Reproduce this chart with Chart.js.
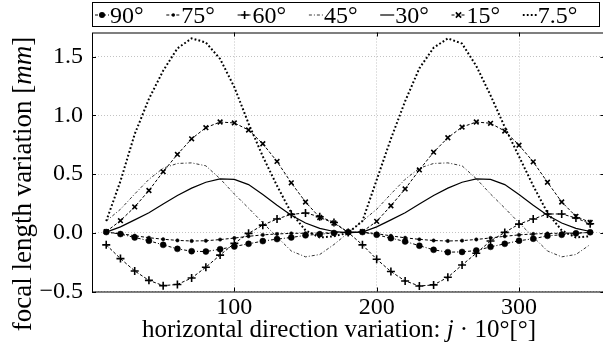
<!DOCTYPE html>
<html>
<head>
<meta charset="utf-8">
<script src="https://cdn.jsdelivr.net/npm/chart.js@4.4.0/dist/chart.umd.min.js"></script>
<style>
  html, body { margin: 0; padding: 0; background: #fff; overflow: hidden; }
  #wrap { width: 610px; height: 347px; }
</style>
</head>
<body>
<div id="wrap"><canvas id="c" width="610" height="347"></canvas></div>
<script>
// horizontal direction variation j*10 deg
const angleX = [10, 20, 30, 40, 50, 60, 70, 80, 90, 100, 110, 120, 130, 140, 150, 160, 170, 180,
                190, 200, 210, 220, 230, 240, 250, 260, 270, 280, 290, 300, 310, 320, 330, 340, 350];

// focal length variation [mm] per tilt angle
const f90 = [0.006, -0.011, -0.040, -0.068, -0.103, -0.137, -0.157, -0.160, -0.140, -0.117, -0.094, -0.071, -0.054, -0.040, -0.022, -0.012, -0.002, 0.004,
             0.006, -0.017, -0.046, -0.074, -0.110, -0.145, -0.165, -0.163, -0.151, -0.120, -0.094, -0.068, -0.051, -0.026, -0.017, -0.005, 0.004];
const f75 = [0.005, -0.008, -0.025, -0.042, -0.055, -0.065, -0.070, -0.068, -0.058, -0.045, -0.030, -0.018, -0.010, -0.005, -0.004, -0.003, 0.000, 0.003,
             0.005, -0.008, -0.026, -0.043, -0.056, -0.066, -0.070, -0.067, -0.057, -0.044, -0.030, -0.018, -0.010, -0.006, -0.004, -0.002, 0.002];
const f60 = [-0.103, -0.220, -0.325, -0.405, -0.450, -0.440, -0.385, -0.293, -0.190, -0.090, -0.005, 0.065, 0.117, 0.157, 0.168, 0.137, 0.088, 0.003,
             -0.103, -0.225, -0.330, -0.410, -0.453, -0.444, -0.379, -0.274, -0.174, -0.070, 0.003, 0.074, 0.117, 0.160, 0.160, 0.126, 0.077];
const f45 = [0.100, 0.200, 0.330, 0.455, 0.550, 0.590, 0.595, 0.570, 0.460, 0.330, 0.210, 0.085, -0.035, -0.155, -0.205, -0.185, -0.100, 0.000,
             0.100, 0.200, 0.330, 0.455, 0.550, 0.590, 0.595, 0.570, 0.460, 0.330, 0.210, 0.085, -0.035, -0.155, -0.205, -0.185, -0.100];
const f30 = [0.005, 0.050, 0.110, 0.170, 0.245, 0.318, 0.380, 0.430, 0.458, 0.455, 0.410, 0.325, 0.235, 0.150, 0.083, 0.038, 0.011, 0.002,
             0.005, 0.050, 0.110, 0.170, 0.245, 0.318, 0.380, 0.430, 0.458, 0.455, 0.410, 0.325, 0.235, 0.150, 0.083, 0.038, 0.011];
const f15 = [0.010, 0.103, 0.220, 0.360, 0.520, 0.667, 0.800, 0.895, 0.943, 0.935, 0.875, 0.758, 0.607, 0.425, 0.262, 0.130, 0.083, 0.003,
             0.010, 0.097, 0.230, 0.373, 0.535, 0.686, 0.809, 0.900, 0.943, 0.932, 0.866, 0.746, 0.604, 0.430, 0.262, 0.140, 0.088];
const f7_5 = [0.100, 0.440, 0.840, 1.140, 1.380, 1.570, 1.655, 1.620, 1.480, 1.240, 0.930, 0.650, 0.400, 0.170, 0.020, -0.040, -0.030, 0.000,
              0.100, 0.450, 0.800, 1.120, 1.400, 1.575, 1.655, 1.610, 1.420, 1.170, 0.900, 0.650, 0.400, 0.170, 0.020, -0.040, -0.030];

const seriesLabels = ['90°', '75°', '60°', '45°', '30°', '15°', '7.5°'];
const xTicks = [100, 200, 300];
const yTicks = [-0.5, 0, 0.5, 1.0, 1.5];

const serif = "'Liberation Serif', 'Times New Roman', serif";
const fontSize = 24;

function pts(vals) {
    return vals.map((v, i) => ({ x: angleX[i], y: v }));
}

// line style per series: dash, width, marker
const looks = [
    { dash: [3, 2, 1, 2], width: 1,   marker: 'circle', r: 3 },
    { dash: [3, 2],       width: 1,   marker: 'circle', r: 1.7 },
    { dash: [3, 2],       width: 1,   marker: 'cross',  r: 4 },
    { dash: [3, 2, 1, 2], width: 0.8, marker: false,    r: 0 },
    { dash: [],           width: 1.2, marker: false,    r: 0 },
    { dash: [3, 2],       width: 1,   marker: 'crossRot', r: 3.3 },
    { dash: [1.8, 2.2],   width: 2,   marker: false,    r: 0 }
];

const seriesData = [f90, f75, f60, f45, f30, f15, f7_5];

const datasets = seriesData.map((vals, i) => ({
    label: seriesLabels[i],
    data: pts(vals),
    borderColor: '#000',
    backgroundColor: '#000',
    borderWidth: looks[i].width,
    borderDash: looks[i].dash,
    pointStyle: looks[i].marker || 'circle',
    pointRadius: looks[i].r,
    pointBorderWidth: looks[i].marker === 'circle' ? 0.5 : 1.6,
    pointBackgroundColor: '#000',
    pointBorderColor: '#000',
    tension: 0,
    fill: false
}));

function drawMarker(ctx, kind, r, x, y) {
    ctx.save();
    ctx.setLineDash([]);
    ctx.fillStyle = '#000';
    ctx.strokeStyle = '#000';
    ctx.beginPath();
    if (kind === 'circle') {
        ctx.arc(x, y, r, 0, Math.PI * 2);
        ctx.fill();
    } else if (kind === 'cross') {
        ctx.lineWidth = 1.6;
        ctx.moveTo(x - r, y); ctx.lineTo(x + r, y);
        ctx.moveTo(x, y - r); ctx.lineTo(x, y + r);
        ctx.stroke();
    } else if (kind === 'crossRot') {
        ctx.lineWidth = 1.6;
        ctx.moveTo(x - r * 0.8, y - r * 0.8); ctx.lineTo(x + r * 0.8, y + r * 0.8);
        ctx.moveTo(x - r * 0.8, y + r * 0.8); ctx.lineTo(x + r * 0.8, y - r * 0.8);
        ctx.stroke();
    }
    ctx.restore();
}

function drawPieces(ctx, pieces, cx, baseline, size) {
    let total = 0;
    pieces.forEach(p => {
        ctx.font = (p.it ? 'italic ' : '') + size + 'px ' + serif;
        p.w = ctx.measureText(p.t).width;
        total += p.w;
    });
    let x = cx - total / 2;
    pieces.forEach(p => {
        ctx.font = (p.it ? 'italic ' : '') + size + 'px ' + serif;
        ctx.fillText(p.t, x, baseline);
        x += p.w;
    });
}

const decorations = {
    id: 'decorations',
    afterDraw(chart) {
        const { ctx, chartArea: a, scales } = chart;
        ctx.save();
        ctx.strokeStyle = '#000';
        ctx.fillStyle = '#000';
        ctx.lineWidth = 1;

        // plot frame
        ctx.strokeRect(a.left + 0.5, a.top + 0.5, a.right - a.left, a.bottom - a.top);

        // inward tick marks on all four sides
        ctx.beginPath();
        xTicks.forEach(v => {
            const px = Math.round(scales.x.getPixelForValue(v)) + 0.5;
            ctx.moveTo(px, a.bottom); ctx.lineTo(px, a.bottom - 4);
            ctx.moveTo(px, a.top); ctx.lineTo(px, a.top + 4);
        });
        yTicks.forEach(v => {
            const py = Math.round(scales.y.getPixelForValue(v)) + 0.5;
            ctx.moveTo(a.left, py); ctx.lineTo(a.left + 4, py);
            ctx.moveTo(a.right, py); ctx.lineTo(a.right - 4, py);
        });
        ctx.stroke();

        // legend box on top
        const boxL = a.left + 0.5, boxR = 599.5, boxT = 2.5, boxB = 26.5;
        ctx.strokeRect(boxL, boxT, boxR - boxL, boxB - boxT);
        const step = 71.3;
        const midY = 15;
        ctx.textBaseline = 'alphabetic';
        chart.data.datasets.forEach((ds, i) => {
            const sx = boxL + 2.5 + i * step;
            const sLen = 14;
            ctx.save();
            ctx.lineWidth = ds.borderWidth;
            ctx.setLineDash(ds.borderDash);
            ctx.beginPath();
            ctx.moveTo(sx, midY); ctx.lineTo(sx + sLen, midY);
            ctx.stroke();
            ctx.restore();
            if (looks[i].marker) {
                drawMarker(ctx, looks[i].marker, looks[i].r, sx + sLen / 2, midY);
            }
            ctx.font = fontSize + 'px ' + serif;
            ctx.fillText(ds.label, sx + sLen + 1, 23);
        });

        // axis titles
        drawPieces(ctx, [
            { t: 'horizontal direction variation: ', it: false },
            { t: 'j', it: true },
            { t: ' · 10°[°]', it: false }
        ], 339, 337, 25);

        ctx.save();
        ctx.translate(31, 184);
        ctx.rotate(-Math.PI / 2);
        drawPieces(ctx, [
            { t: 'focal length variation [', it: false },
            { t: 'mm', it: true },
            { t: ']', it: false }
        ], 0, 0, 27);
        ctx.restore();

        ctx.restore();
    }
};

new Chart(document.getElementById('c').getContext('2d'), {
    type: 'line',
    data: { datasets },
    options: {
        responsive: false,
        animation: false,
        devicePixelRatio: 1,
        layout: { padding: { left: 0, right: 5.5, top: 32.5, bottom: 0 } },
        plugins: {
            legend: { display: false },
            tooltip: { enabled: false }
        },
        scales: {
            x: {
                type: 'linear',
                min: 0,
                max: 360,
                afterBuildTicks: s => { s.ticks = xTicks.map(v => ({ value: v })); },
                afterFit: s => { s.height = 55.5; },
                grid: { color: '#b4b4b4', lineWidth: 0.8, drawTicks: false },
                border: { display: false, dash: [1, 2] },
                ticks: {
                    color: '#000',
                    font: { family: serif, size: fontSize },
                    padding: 2,
                    maxRotation: 0,
                    autoSkip: false
                }
            },
            y: {
                type: 'linear',
                min: -0.5,
                max: 1.705,
                afterBuildTicks: s => { s.ticks = yTicks.map(v => ({ value: v })); },
                afterFit: s => { s.width = 92; },
                grid: { color: '#b4b4b4', lineWidth: 0.8, drawTicks: false },
                border: { display: false, dash: [1, 2] },
                ticks: {
                    color: '#000',
                    font: { family: serif, size: fontSize },
                    padding: 9,
                    callback: v => (v < 0 ? '\u2212' : '') + Math.abs(v).toFixed(1)
                }
            }
        }
    },
    plugins: [decorations]
});
</script>
</body>
</html>
